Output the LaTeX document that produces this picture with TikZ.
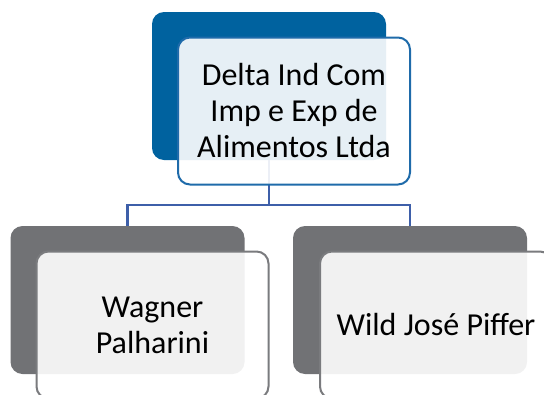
\documentclass[tikz,border=0pt]{standalone}
\usepackage{fontspec}
\setmainfont{Carlito}
\usetikzlibrary{positioning}
\definecolor{azul}{HTML}{00629F}
\definecolor{cinza}{HTML}{717275}
\definecolor{bordaazul}{HTML}{1F6BAA}
\definecolor{bordacinza}{HTML}{7A7B7E}
\definecolor{ligacor}{HTML}{3E5FA9}

\begin{document}
\begin{tikzpicture}[x=1pt,y=1pt,
    fundo/.style={rectangle, rounded corners=12pt, minimum width=234pt,
        minimum height=148pt, inner sep=0pt},
    caixa/.style={rectangle, rounded corners=12pt, minimum width=232pt,
        minimum height=147pt, inner sep=0pt, line width=2pt, fill=white,
        fill opacity=0.9, text opacity=1, align=center,
        font=\fontsize{32}{36}\selectfont},
    liga/.style={line width=2.6pt, draw=ligacor}]

    \useasboundingbox (0,0) rectangle (544,-394);
    \clip (0,0) rectangle (544,-394);

    % caixas de fundo
    \node [fundo, fill=azul] (a) at (269,-86) {};
    \node [fundo, fill=cinza] (b) at (127.5,-300) {};
    \node [fundo, fill=cinza] (c) at (410,-300) {};

    % ligacoes
    \coordinate (r) at (269,-205);
    \draw [liga] (a.south) -- (r) -| (b.north);
    \draw [liga] (r) -| (c.north);

    % caixas da frente
    \node [caixa, draw=bordaazul] (a1) at ([shift={(25,-25)}]a)
        {Delta Ind Com\\Imp e Exp de\\Alimentos Ltda};
    \node [caixa, draw=bordacinza] (b1) at ([shift={(25,-25)}]b)
        {Wagner\\Palharini};
    \node [caixa, draw=bordacinza] (c1) at ([shift={(26,-25)}]c)
        {Wild José Piffer};
\end{tikzpicture}
\end{document}
